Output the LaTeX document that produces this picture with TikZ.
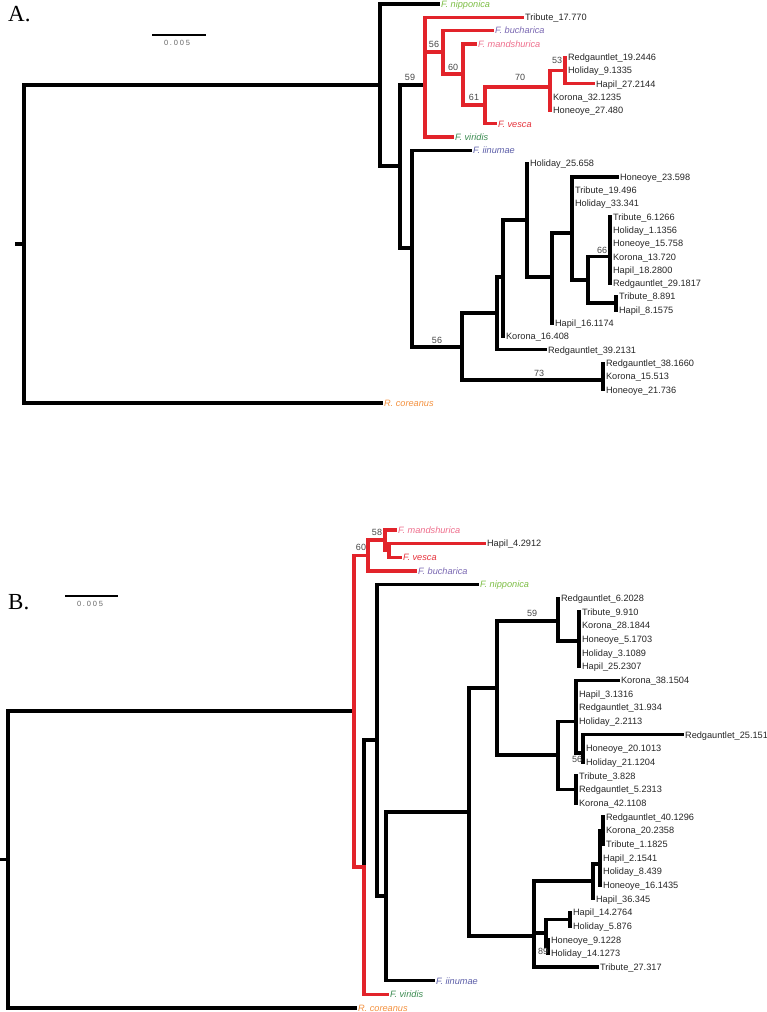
\documentclass[tikz,border=0pt]{standalone}
\usepackage{fontspec}
\setmainfont{Liberation Sans}
\newfontfamily\serifA{Liberation Serif}
\definecolor{treered}{HTML}{E2232A}
\definecolor{cnip}{HTML}{7DBE45}
\definecolor{cbuc}{HTML}{7A68B2}
\definecolor{cman}{HTML}{EE6E8C}
\definecolor{cves}{HTML}{E5323B}
\definecolor{cvir}{HTML}{3A8A50}
\definecolor{ciin}{HTML}{5C5EA8}
\definecolor{ccor}{HTML}{F3913F}
\tikzset{
  br/.style={line width=3.2pt, line cap=rect, line join=miter, draw=black},
  rb/.style={br, draw=treered},
  lf/.style={anchor=west, inner xsep=2.9pt, inner ysep=0pt, text height=6.6pt, text depth=0pt, font=\fontsize{9.2}{10}\selectfont, text=black!85},
  sp/.style={lf, font=\fontsize{9.2}{10}\selectfont\itshape},
  bs/.style={inner sep=0pt, font=\fontsize{9}{10}\selectfont, text=black!72},
  pl/.style={anchor=base west, inner sep=0pt, font=\serifA\fontsize{23}{25}\selectfont},
  sbar/.style={line width=2.8pt},
  sblab/.style={inner sep=0pt, font=\fontsize{7.5}{8}\selectfont, text=black!60}
}
\newcommand{\scaletext}{0\kern1.8pt.\kern1.8pt0\kern1.8pt0\kern1.8pt5}
\begin{document}
\begin{tikzpicture}[x=1pt,y=-1pt]
\useasboundingbox (0,0) rectangle (767,1012);
% ---------------- Panel A ----------------
\node[pl] (labA) at (8,21) {A.};
\coordinate (sa1) at (152,35); \coordinate (sa2) at (206,35);
\draw[sbar] (sa1) -- (sa2);
\node[sblab] (sat) at (177,43) {\scaletext};
% internal nodes
\coordinate (a0s) at (17,244);
\coordinate (a0) at (24,244);
\coordinate (a1) at (380,85);
\coordinate (a2) at (400,166);
\coordinate (a3) at (425,85);
\coordinate (a4) at (412,248);
\coordinate (a5) at (443,52);
\coordinate (a6) at (463,74);
\coordinate (a7) at (485,105);
\coordinate (a8) at (550,87);
\coordinate (a9) at (565,70.5);
\coordinate (a10) at (462,347);
\coordinate (a11) at (497,313);
\coordinate (a12) at (603,380);
\coordinate (a13) at (503,277);
\coordinate (a14) at (527,220);
\coordinate (a15) at (552,277);
\coordinate (a16) at (572,233);
\coordinate (a17) at (588,280);
\coordinate (a18) at (610,256.7);
\coordinate (a19) at (616,303);
% leaves
\node[sp, text=cnip] (la1) at (438,4) {F. nipponica};
\node[lf] (la2) at (522,17.3) {Tribute\_17.770};
\node[sp, text=cbuc] (la3) at (492,30.6) {F. bucharica};
\node[sp, text=cman] (la4) at (475,43.9) {F. mandshurica};
\node[lf] (la5) at (565,57.2) {Redgauntlet\_19.2446};
\node[lf] (la6) at (565,70.5) {Holiday\_9.1335};
\node[lf] (la7) at (593,83.8) {Hapil\_27.2144};
\node[lf] (la8) at (550,97.1) {Korona\_32.1235};
\node[lf] (la9) at (550,110.4) {Honeoye\_27.480};
\node[sp, text=cves] (la10) at (495,123.7) {F. vesca};
\node[sp, text=cvir] (la11) at (452,137) {F. viridis};
\node[sp, text=ciin] (la12) at (470,150.3) {F. iinumae};
\node[lf] (la13) at (527,163.6) {Holiday\_25.658};
\node[lf] (la14) at (617,176.9) {Honeoye\_23.598};
\node[lf] (la15) at (572,190.2) {Tribute\_19.496};
\node[lf] (la16) at (572,203.5) {Holiday\_33.341};
\node[lf] (la17) at (610,216.8) {Tribute\_6.1266};
\node[lf] (la18) at (610,230.1) {Holiday\_1.1356};
\node[lf] (la19) at (610,243.4) {Honeoye\_15.758};
\node[lf] (la20) at (610,256.7) {Korona\_13.720};
\node[lf] (la21) at (610,270) {Hapil\_18.2800};
\node[lf] (la22) at (610,283.3) {Redgauntlet\_29.1817};
\node[lf] (la23) at (616,296.6) {Tribute\_8.891};
\node[lf] (la24) at (616,309.9) {Hapil\_8.1575};
\node[lf] (la25) at (552,323.2) {Hapil\_16.1174};
\node[lf] (la26) at (503,336.5) {Korona\_16.408};
\node[lf] (la27) at (545,349.8) {Redgauntlet\_39.2131};
\node[lf] (la28) at (603,363.1) {Redgauntlet\_38.1660};
\node[lf] (la29) at (603,376.4) {Korona\_15.513};
\node[lf] (la30) at (603,389.7) {Honeoye\_21.736};
\node[sp, text=ccor] (la31) at (381,403) {R. coreanus};
% black branches
\draw[br] (a0s) -- (a0);
\draw[br] (a0) |- (a1);
\draw[br] (a0) |- (la31.west);
\draw[br] (a1) |- (la1.west);
\draw[br] (a1) |- (a2);
\draw[br] (a2) |- (a3);
\draw[br] (a2) |- (a4);
\draw[br] (a4) |- (la12.west);
\draw[br] (a4) |- (a10);
\draw[br] (a10) |- (a11);
\draw[br] (a10) |- (a12);
\draw[br] (a12) |- (la28.west);
\draw[br] (a12) |- (la29.west);
\draw[br] (a12) |- (la30.west);
\draw[br] (a11) |- (a13);
\draw[br] (a11) |- (la27.west);
\draw[br] (a13) |- (a14);
\draw[br] (a13) |- (la26.west);
\draw[br] (a14) |- (la13.west);
\draw[br] (a14) |- (a15);
\draw[br] (a15) |- (a16);
\draw[br] (a15) |- (la25.west);
\draw[br] (a16) |- (la14.west);
\draw[br] (a16) |- (la15.west);
\draw[br] (a16) |- (la16.west);
\draw[br] (a16) |- (a17);
\draw[br] (a17) |- (a18);
\draw[br] (a17) |- (a19);
\draw[br] (a18) |- (la17.west);
\draw[br] (a18) |- (la18.west);
\draw[br] (a18) |- (la19.west);
\draw[br] (a18) |- (la20.west);
\draw[br] (a18) |- (la21.west);
\draw[br] (a18) |- (la22.west);
\draw[br] (a19) |- (la23.west);
\draw[br] (a19) |- (la24.west);
% red branches
\draw[rb] (a3) |- (la2.west);
\draw[rb] (a3) |- (a5);
\draw[rb] (a3) |- (la11.west);
\draw[rb] (a5) |- (la3.west);
\draw[rb] (a5) |- (a6);
\draw[rb] (a6) |- (la4.west);
\draw[rb] (a6) |- (a7);
\draw[rb] (a7) |- (a8);
\draw[rb] (a7) |- (la10.west);
\draw[rb] (a8) |- (a9);
\draw[rb] (a8) |- (la8.west);
\draw[rb] (a8) |- (la9.west);
\draw[rb] (a9) |- (la5.west);
\draw[rb] (a9) |- (la6.west);
\draw[rb] (a9) |- (la7.west);
% support values
\node[bs] (sA59) at (410,77) {59};
\node[bs] (sA56a) at (434,44) {56};
\node[bs] (sA60) at (453,67) {60};
\node[bs] (sA61) at (474,97) {61};
\node[bs] (sA70) at (520,77) {70};
\node[bs] (sA53) at (557,60) {53};
\node[bs] (sA66) at (602,250) {66};
\node[bs] (sA56b) at (437,340) {56};
\node[bs] (sA73) at (539,373) {73};
% ---------------- Panel B ----------------
\node[pl] (labB) at (8,609) {B.};
\coordinate (sb1) at (65,596); \coordinate (sb2) at (118,596);
\draw[sbar] (sb1) -- (sb2);
\node[sblab] (sbt) at (90,604) {\scaletext};
% internal nodes
\coordinate (b0s) at (0,859.5);
\coordinate (b0) at (8,859.5);
\coordinate (b1) at (354,711);
\coordinate (bt) at (368,555.5);
\coordinate (b58) at (385,540);
\coordinate (bin) at (389,550.4);
\coordinate (b3) at (364,867);
\coordinate (b4) at (377,740);
\coordinate (b5) at (386,896);
\coordinate (b6) at (469,812);
\coordinate (b7) at (497,688);
\coordinate (b8) at (534,936);
\coordinate (b9) at (558,621);
\coordinate (b10) at (558,755);
\coordinate (b11) at (579,641);
\coordinate (b12) at (576,721.1);
\coordinate (b13) at (576,789.4);
\coordinate (b14) at (583,753);
\coordinate (b15) at (593,881);
\coordinate (b16) at (546,933);
\coordinate (b17) at (600,864);
\coordinate (b18) at (603,830.4);
\coordinate (b19) at (570,919.2);
\coordinate (b20) at (548,946.5);
% leaves
\node[sp, text=cman] (lb35) at (395,529.9) {F. mandshurica};
\node[lf] (lb34) at (484,543.6) {Hapil\_4.2912};
\node[sp, text=cves] (lb33) at (400,557.2) {F. vesca};
\node[sp, text=cbuc] (lb32) at (415,570.9) {F. bucharica};
\node[sp, text=cnip] (lb31) at (477,584.5) {F. nipponica};
\node[lf] (lb30) at (558,598.2) {Redgauntlet\_6.2028};
\node[lf] (lb29) at (579,611.9) {Tribute\_9.910};
\node[lf] (lb28) at (579,625.5) {Korona\_28.1844};
\node[lf] (lb27) at (579,639.2) {Honeoye\_5.1703};
\node[lf] (lb26) at (579,652.8) {Holiday\_3.1089};
\node[lf] (lb25) at (579,666.5) {Hapil\_25.2307};
\node[lf] (lb24) at (618,680.2) {Korona\_38.1504};
\node[lf] (lb23) at (576,693.8) {Hapil\_3.1316};
\node[lf] (lb22) at (576,707.5) {Redgauntlet\_31.934};
\node[lf] (lb21) at (576,721.1) {Holiday\_2.2113};
\node[lf] (lb20) at (682,734.8) {Redgauntlet\_25.151};
\node[lf] (lb19) at (583,748.5) {Honeoye\_20.1013};
\node[lf] (lb18) at (583,762.1) {Holiday\_21.1204};
\node[lf] (lb17) at (576,775.8) {Tribute\_3.828};
\node[lf] (lb16) at (576,789.4) {Redgauntlet\_5.2313};
\node[lf] (lb15) at (576,803.1) {Korona\_42.1108};
\node[lf] (lb14) at (603,816.8) {Redgauntlet\_40.1296};
\node[lf] (lb13) at (603,830.4) {Korona\_20.2358};
\node[lf] (lb12) at (603,844.1) {Tribute\_1.1825};
\node[lf] (lb11) at (600,857.7) {Hapil\_2.1541};
\node[lf] (lb10) at (600,871.4) {Holiday\_8.439};
\node[lf] (lb9) at (600,885.1) {Honeoye\_16.1435};
\node[lf] (lb8) at (593,898.7) {Hapil\_36.345};
\node[lf] (lb7) at (570,912.4) {Hapil\_14.2764};
\node[lf] (lb6) at (570,926) {Holiday\_5.876};
\node[lf] (lb5) at (548,939.7) {Honeoye\_9.1228};
\node[lf] (lb4) at (548,953.4) {Holiday\_14.1273};
\node[lf] (lb3) at (597,967) {Tribute\_27.317};
\node[sp, text=ciin] (lb2) at (433,980.7) {F. iinumae};
\node[sp, text=cvir] (lb1) at (387,994.3) {F. viridis};
\node[sp, text=ccor] (lb0) at (355,1008) {R. coreanus};
% black branches
\draw[br] (b0s) -- (b0);
\draw[br] (b0) |- (b1);
\draw[br] (b0) |- (lb0.west);
\draw[br] (b3) |- (b4);
\draw[br] (b4) |- (lb31.west);
\draw[br] (b4) |- (b5);
\draw[br] (b5) |- (b6);
\draw[br] (b5) |- (lb2.west);
\draw[br] (b6) |- (b7);
\draw[br] (b6) |- (b8);
\draw[br] (b7) |- (b9);
\draw[br] (b7) |- (b10);
\draw[br] (b9) |- (lb30.west);
\draw[br] (b9) |- (b11);
\draw[br] (b11) |- (lb29.west);
\draw[br] (b11) |- (lb28.west);
\draw[br] (b11) |- (lb27.west);
\draw[br] (b11) |- (lb26.west);
\draw[br] (b11) |- (lb25.west);
\draw[br] (b10) |- (b12);
\draw[br] (b10) |- (b13);
\draw[br] (b12) |- (lb24.west);
\draw[br] (b12) |- (lb23.west);
\draw[br] (b12) |- (lb22.west);
\draw[br] (b12) |- (lb21.west);
\draw[br] (b12) |- (b14);
\draw[br] (b14) |- (lb20.west);
\draw[br] (b14) |- (lb19.west);
\draw[br] (b14) |- (lb18.west);
\draw[br] (b13) |- (lb17.west);
\draw[br] (b13) |- (lb16.west);
\draw[br] (b13) |- (lb15.west);
\draw[br] (b8) |- (b15);
\draw[br] (b8) |- (b16);
\draw[br] (b8) |- (lb3.west);
\draw[br] (b15) |- (b17);
\draw[br] (b15) |- (lb8.west);
\draw[br] (b17) |- (b18);
\draw[br] (b17) |- (lb11.west);
\draw[br] (b17) |- (lb10.west);
\draw[br] (b17) |- (lb9.west);
\draw[br] (b18) |- (lb14.west);
\draw[br] (b18) |- (lb13.west);
\draw[br] (b18) |- (lb12.west);
\draw[br] (b16) |- (b19);
\draw[br] (b16) |- (b20);
\draw[br] (b19) |- (lb7.west);
\draw[br] (b19) |- (lb6.west);
\draw[br] (b20) |- (lb5.west);
\draw[br] (b20) |- (lb4.west);
% red branches
\draw[rb] (b1) |- (bt);
\draw[rb] (b1) |- (b3);
\draw[rb] (b3) |- (lb1.west);
\draw[rb] (bt) |- (b58);
\draw[rb] (bt) |- (lb32.west);
\draw[rb] (b58) |- (lb35.west);
\draw[rb] (b58) |- (bin);
\draw[rb] (bin) |- (lb34.west);
\draw[rb] (bin) |- (lb33.west);
% support values
\node[bs] (sB60) at (361,547) {60};
\node[bs] (sB58) at (377,532) {58};
\node[bs] (sB59) at (532,613) {59};
\node[bs] (sB56) at (577,759) {56};
\node[bs] (sB89) at (543,951) {89};
\end{tikzpicture}
\end{document}
